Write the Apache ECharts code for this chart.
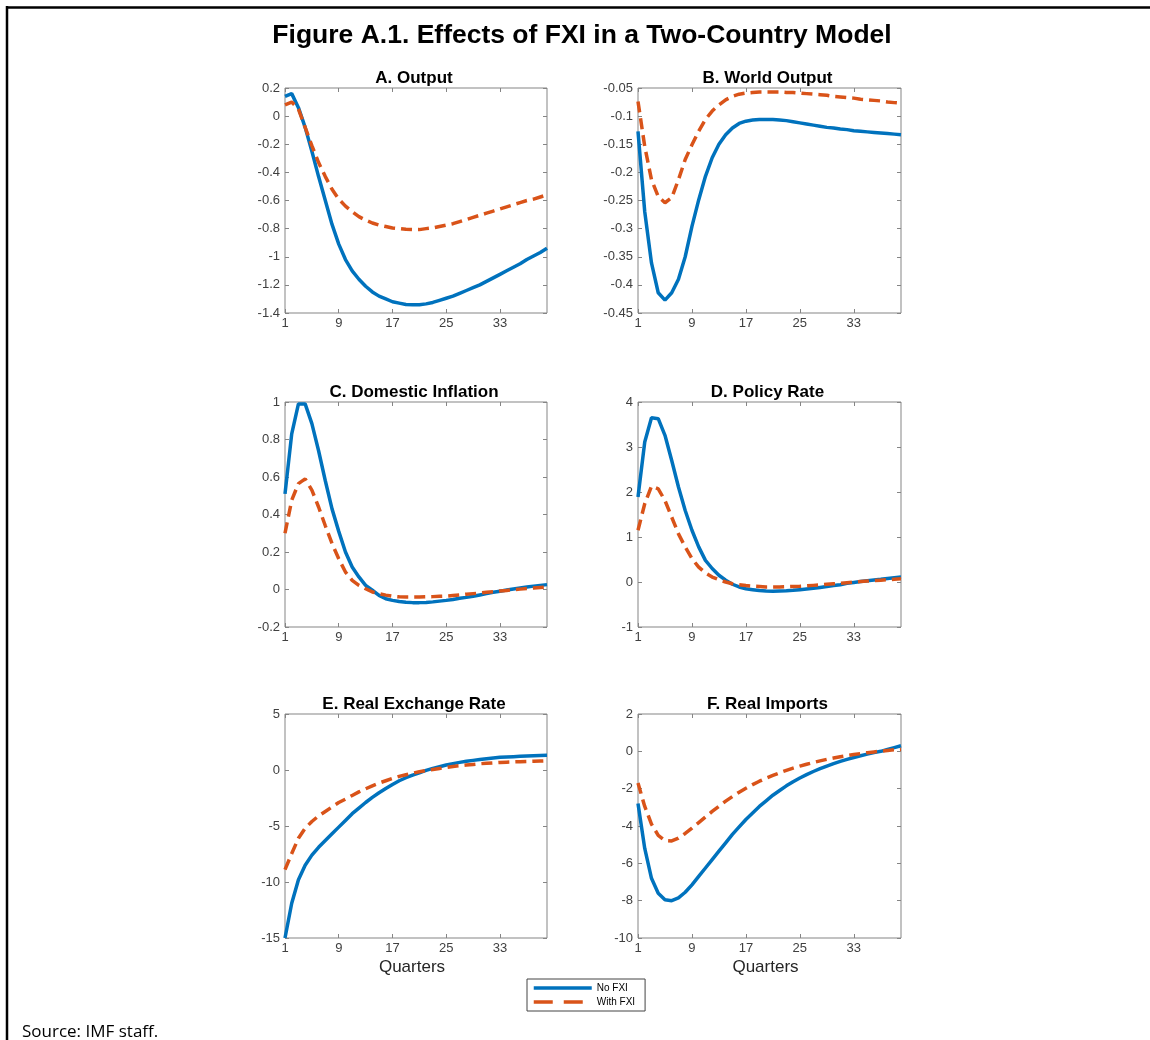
<!DOCTYPE html>
<html>
<head>
<meta charset="utf-8">
<script src="https://cdn.jsdelivr.net/npm/echarts@6/dist/echarts.min.js"></script>
<style>
html,body{margin:0;padding:0;background:#fff;}
#chart{width:1150px;height:1040px;}
</style>
</head>
<body>
<div id="chart"></div>
<script>
// ---------- DATA ----------
const quarters = [];
for (let q = 1; q <= 40; q++) quarters.push(q);
const xTickLabels = [1, 9, 17, 25, 33];

const seriesNames = ['No FXI', 'With FXI'];

const panelTitles = ['A. Output', 'B. World Output', 'C. Domestic Inflation', 'D. Policy Rate', 'E. Real Exchange Rate', 'F. Real Imports'];

// A. Output
const outputNoFXI = [0.14, 0.16, 0.06, -0.08, -0.25, -0.43, -0.60, -0.77, -0.91, -1.02, -1.10, -1.16, -1.21, -1.25, -1.28, -1.30, -1.32, -1.33, -1.34, -1.342, -1.342, -1.335, -1.325, -1.31, -1.295, -1.28, -1.26, -1.24, -1.22, -1.20, -1.175, -1.15, -1.125, -1.10, -1.075, -1.05, -1.02, -0.995, -0.97, -0.94];
const outputWithFXI = [0.08, 0.10, 0.05, -0.08, -0.21, -0.33, -0.43, -0.52, -0.59, -0.64, -0.68, -0.715, -0.74, -0.76, -0.775, -0.785, -0.795, -0.80, -0.805, -0.807, -0.807, -0.80, -0.795, -0.785, -0.775, -0.765, -0.75, -0.735, -0.72, -0.705, -0.69, -0.675, -0.66, -0.645, -0.63, -0.615, -0.60, -0.59, -0.575, -0.56];

// B. World Output
const worldNoFXI = [-0.127, -0.27, -0.361, -0.414, -0.427, -0.414, -0.39, -0.35, -0.296, -0.249, -0.207, -0.174, -0.15, -0.133, -0.121, -0.113, -0.109, -0.107, -0.106, -0.106, -0.106, -0.107, -0.108, -0.110, -0.112, -0.114, -0.116, -0.118, -0.120, -0.121, -0.123, -0.124, -0.126, -0.127, -0.128, -0.129, -0.130, -0.131, -0.132, -0.133];
const worldWithFXI = [-0.074, -0.154, -0.213, -0.243, -0.254, -0.245, -0.213, -0.177, -0.151, -0.127, -0.106, -0.091, -0.080, -0.071, -0.065, -0.061, -0.059, -0.058, -0.057, -0.057, -0.057, -0.057, -0.058, -0.058, -0.059, -0.060, -0.061, -0.062, -0.063, -0.065, -0.066, -0.067, -0.068, -0.070, -0.071, -0.072, -0.073, -0.075, -0.076, -0.077];

// C. Domestic Inflation
const inflNoFXI = [0.51, 0.83, 0.99, 0.99, 0.885, 0.74, 0.58, 0.43, 0.31, 0.20, 0.12, 0.067, 0.022, -0.004, -0.031, -0.049, -0.058, -0.064, -0.068, -0.07, -0.07, -0.069, -0.066, -0.062, -0.058, -0.053, -0.047, -0.042, -0.036, -0.029, -0.022, -0.015, -0.009, -0.003, 0.003, 0.008, 0.013, 0.018, 0.022, 0.026];
const inflWithFXI = [0.30, 0.476, 0.565, 0.59, 0.53, 0.44, 0.34, 0.245, 0.164, 0.093, 0.049, 0.022, 0.004, -0.013, -0.022, -0.03, -0.036, -0.039, -0.04, -0.04, -0.04, -0.039, -0.038, -0.036, -0.035, -0.032, -0.029, -0.025, -0.022, -0.019, -0.015, -0.012, -0.008, -0.005, -0.001, 0.002, 0.005, 0.008, 0.011, 0.013];

// D. Policy Rate
const rateNoFXI = [1.89, 3.11, 3.65, 3.63, 3.26, 2.70, 2.11, 1.59, 1.15, 0.78, 0.48, 0.30, 0.15, 0.04, -0.05, -0.11, -0.15, -0.17, -0.19, -0.20, -0.205, -0.20, -0.195, -0.185, -0.17, -0.155, -0.14, -0.12, -0.10, -0.08, -0.06, -0.03, -0.01, 0.01, 0.03, 0.045, 0.06, 0.08, 0.095, 0.11];
const rateWithFXI = [1.15, 1.74, 2.13, 2.07, 1.81, 1.44, 1.07, 0.78, 0.52, 0.33, 0.20, 0.11, 0.05, 0.0, -0.04, -0.06, -0.08, -0.09, -0.10, -0.11, -0.11, -0.11, -0.105, -0.10, -0.095, -0.085, -0.075, -0.065, -0.05, -0.04, -0.03, -0.015, 0.0, 0.01, 0.02, 0.03, 0.04, 0.05, 0.06, 0.07];

// E. Real Exchange Rate
const rerNoFXI = [-15, -11.9, -9.8, -8.5, -7.6, -6.9, -6.3, -5.7, -5.1, -4.5, -3.9, -3.4, -2.9, -2.45, -2.03, -1.65, -1.29, -0.96, -0.69, -0.45, -0.25, -0.04, 0.14, 0.29, 0.44, 0.57, 0.68, 0.78, 0.86, 0.94, 1.01, 1.07, 1.13, 1.16, 1.19, 1.22, 1.25, 1.28, 1.30, 1.32];
const rerWithFXI = [-8.9, -7.46, -6.1, -5.2, -4.6, -4.1, -3.7, -3.3, -2.9, -2.6, -2.27, -1.95, -1.68, -1.41, -1.17, -0.96, -0.75, -0.57, -0.42, -0.28, -0.16, -0.04, 0.05, 0.14, 0.23, 0.32, 0.38, 0.44, 0.50, 0.56, 0.60, 0.64, 0.68, 0.70, 0.72, 0.74, 0.76, 0.78, 0.80, 0.82];

// F. Real Imports
const importsNoFXI = [-2.8, -5.2, -6.8, -7.6, -7.95, -8.0, -7.85, -7.55, -7.15, -6.7, -6.25, -5.8, -5.35, -4.9, -4.45, -4.05, -3.65, -3.3, -2.95, -2.65, -2.35, -2.1, -1.85, -1.63, -1.43, -1.25, -1.08, -0.93, -0.79, -0.66, -0.54, -0.43, -0.33, -0.24, -0.15, -0.07, 0.0, 0.1, 0.2, 0.3];
const importsWithFXI = [-1.7, -2.95, -3.9, -4.5, -4.78, -4.8, -4.65, -4.4, -4.12, -3.82, -3.52, -3.22, -2.94, -2.67, -2.42, -2.19, -1.98, -1.78, -1.6, -1.44, -1.29, -1.15, -1.02, -0.9, -0.79, -0.69, -0.6, -0.51, -0.43, -0.36, -0.29, -0.23, -0.17, -0.12, -0.07, -0.03, 0.01, 0.05, 0.08, 0.1];

// y-axis ranges [min, max, interval]
const yRanges = [[-1.4, 0.2, 0.2], [-0.45, -0.05, 0.05], [-0.2, 1, 0.2], [-1, 4, 1], [-15, 5, 5], [-10, 2, 2]];

const panelData = [
  [outputNoFXI, outputWithFXI],
  [worldNoFXI, worldWithFXI],
  [inflNoFXI, inflWithFXI],
  [rateNoFXI, rateWithFXI],
  [rerNoFXI, rerWithFXI],
  [importsNoFXI, importsWithFXI]
];

// ---------- LAYOUT ----------
const grids = [
  {left: 285, top: 88, width: 262, height: 225},
  {left: 638, top: 88, width: 263, height: 225},
  {left: 285, top: 402, width: 262, height: 225},
  {left: 638, top: 402, width: 263, height: 225},
  {left: 285, top: 714, width: 262, height: 224},
  {left: 638, top: 714, width: 263, height: 224}
];

const BLUE = '#0072BD';
const ORANGE = '#D95319';
const AXIS_COLOR = '#858585';
const LABEL_COLOR = '#404040';
const FONT = 'Liberation Sans, Arial, sans-serif';

const xAxes = [], yAxes = [], series = [], graphics = [];

grids.forEach((g, i) => {
  const [ymin, ymax, yint] = yRanges[i];
  const tickStyle = {show: true, inside: true, length: 4, lineStyle: {color: AXIS_COLOR, width: 1}};
  const hiddenLine = {show: false, onZero: false};
  // bottom x
  xAxes.push({
    gridIndex: i, type: 'value', position: 'bottom', min: 1, max: 40,
    axisLine: hiddenLine, splitLine: {show: false},
    axisTick: Object.assign({}, tickStyle, {customValues: xTickLabels}),
    axisLabel: {customValues: xTickLabels, color: LABEL_COLOR, fontSize: 13, fontFamily: FONT, margin: 4}
  });
  // top x (mirror ticks)
  xAxes.push({
    gridIndex: i, type: 'value', position: 'top', min: 1, max: 40,
    axisLine: hiddenLine, splitLine: {show: false},
    axisTick: Object.assign({}, tickStyle, {customValues: xTickLabels}),
    axisLabel: {show: false}
  });
  // left y
  yAxes.push({
    gridIndex: i, type: 'value', position: 'left', min: ymin, max: ymax, interval: yint,
    axisLine: hiddenLine, splitLine: {show: false},
    axisTick: tickStyle,
    axisLabel: {color: LABEL_COLOR, fontSize: 13, fontFamily: FONT, margin: 5}
  });
  // right y (mirror ticks)
  yAxes.push({
    gridIndex: i, type: 'value', position: 'right', min: ymin, max: ymax, interval: yint,
    axisLine: hiddenLine, splitLine: {show: false},
    axisTick: tickStyle,
    axisLabel: {show: false}
  });
  panelData[i].forEach((vals, k) => {
    series.push({
      name: seriesNames[k],
      type: 'line',
      xAxisIndex: 2 * i,
      yAxisIndex: 2 * i,
      data: quarters.map((q, j) => [q, vals[j]]),
      symbol: 'none',
      smooth: false,
      clip: true,
      z: k === 0 ? 3 : 4,
      lineStyle: k === 0
        ? {color: BLUE, width: 3.5, type: 'solid'}
        : {color: ORANGE, width: 3.5, type: [11, 6]},
      itemStyle: {color: k === 0 ? BLUE : ORANGE, opacity: 0},
      emphasis: {disabled: true}
    });
  });
  // panel title
  graphics.push({
    type: 'text', x: g.left + g.width / 2 - 2, y: g.top - 10,
    style: {text: panelTitles[i], fontSize: 17, fontWeight: 'bold', fontFamily: FONT, fill: '#000', align: 'center', verticalAlign: 'middle'}
  });
});

// x-axis names
[4, 5].forEach(i => {
  const g = grids[i];
  graphics.push({
    type: 'text', x: g.left + g.width / 2 - 4, y: 967,
    style: {text: 'Quarters', fontSize: 17, fontFamily: FONT, fill: '#262626', align: 'center', verticalAlign: 'middle'}
  });
});

// main title
graphics.push({
  type: 'text', x: 582, y: 36,
  style: {text: 'Figure A.1. Effects of FXI in a Two-Country Model', fontSize: 26.5, fontWeight: 'bold', fontFamily: FONT, fill: '#000', align: 'center', verticalAlign: 'middle'}
});
// source
graphics.push({
  type: 'text', x: 22, y: 1032,
  style: {text: 'Source: IMF staff.', fontSize: 17, fontFamily: 'Open Sans, Noto Sans, sans-serif', fill: '#000', align: 'left', verticalAlign: 'middle'}
});
// frame lines (top and left)
graphics.push({type: 'line', shape: {x1: 6, y1: 7.5, x2: 1150, y2: 7.5}, style: {stroke: '#000', lineWidth: 2.5}});
graphics.push({type: 'line', shape: {x1: 7, y1: 6, x2: 7, y2: 1040}, style: {stroke: '#000', lineWidth: 2.5}});

const option = {
  animation: false,
  backgroundColor: '#fff',
  grid: grids.map(g => Object.assign({show: true, borderColor: AXIS_COLOR, borderWidth: 1, backgroundColor: 'transparent', containLabel: false}, g)),
  xAxis: xAxes,
  yAxis: yAxes,
  series: series,
  legend: {
    data: [
      {name: seriesNames[0]},
      {name: seriesNames[1], lineStyle: {type: [19, 11]}}
    ],
    left: 527, top: 979,
    orient: 'vertical',
    itemWidth: 58, itemHeight: 12, itemGap: 4,
    padding: [4, 10, 4, 5],
    borderColor: '#444', borderWidth: 1,
    selectedMode: false,
    lineStyle: {width: 3.5},
    itemStyle: {opacity: 0},
    textStyle: {fontSize: 10, fontFamily: FONT, color: '#000'}
  },
  graphic: graphics
};

const chart = echarts.init(document.getElementById('chart'), null, {renderer: 'canvas'});
chart.setOption(option);
</script>
</body>
</html>
